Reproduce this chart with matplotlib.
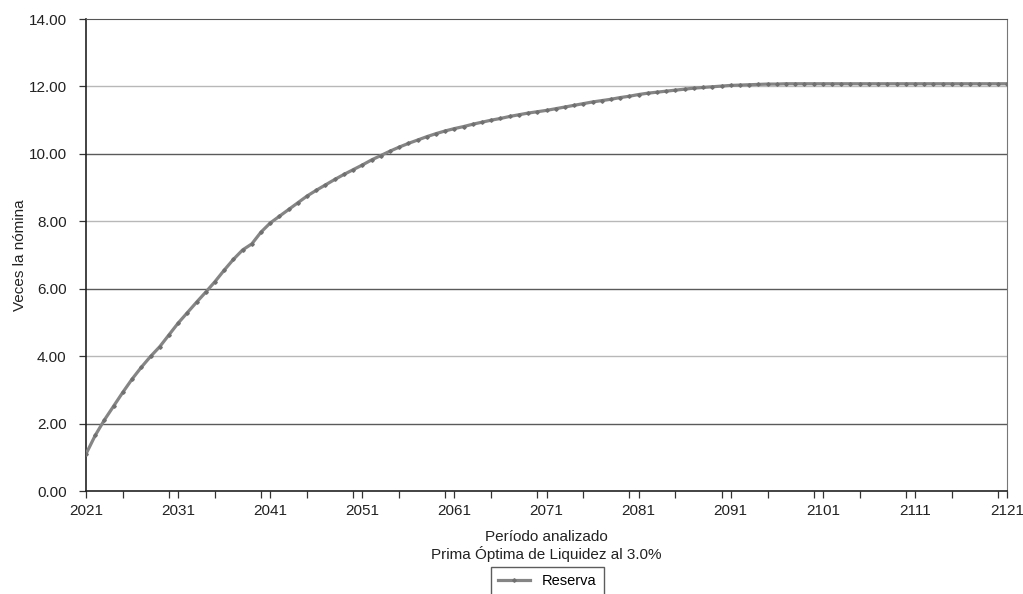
import numpy as np
import matplotlib.pyplot as plt
from matplotlib.ticker import MultipleLocator

# ── data ──
years = list(range(2021, 2122))
reserva = [
    1.10, 1.65, 2.11, 2.52, 2.93, 3.32, 3.67, 3.99, 4.28, 4.63,   # 2021-2030
    4.98, 5.29, 5.60, 5.90, 6.21, 6.55, 6.87, 7.15, 7.33, 7.68,   # 2031-2040
    7.95, 8.15, 8.35, 8.55, 8.75, 8.92, 9.08, 9.24, 9.39, 9.53,   # 2041-2050
    9.67, 9.82, 9.95, 10.08, 10.20, 10.31, 10.41, 10.51, 10.60, 10.68,  # 2051-2060
    10.75, 10.81, 10.88, 10.94, 11.00, 11.05, 11.11, 11.16, 11.21, 11.25,  # 2061-2070
    11.29, 11.34, 11.39, 11.44, 11.49, 11.54, 11.58, 11.62, 11.67, 11.71,  # 2071-2080
    11.76, 11.80, 11.83, 11.86, 11.89, 11.92, 11.95, 11.97, 11.99, 12.01,  # 2081-2090
    12.03, 12.04, 12.05, 12.06, 12.07, 12.07, 12.08, 12.08, 12.08, 12.08,  # 2091-2100
    12.08, 12.08, 12.08, 12.08, 12.08, 12.08, 12.08, 12.08, 12.08, 12.08,  # 2101-2110
    12.08, 12.08, 12.08, 12.08, 12.08, 12.08, 12.08, 12.08, 12.08, 12.08,  # 2111-2120
    12.08,                                                          # 2121
]
y_ticks = [0, 2, 4, 6, 8, 10, 12, 14]
x_ticks = list(range(2021, 2122, 10))

FS = 11

plt.rcParams.update({
    "font.family": ["Liberation Sans", "DejaVu Sans"],
    "font.size": FS,
})

fig = plt.figure(figsize=(10.23, 5.94), dpi=100)
ax = fig.add_axes([0.0841, 0.1734, 0.9003, 0.7946])

# alternating grid shades like the scanned original
for yv in y_ticks[1:-1]:
    col = "#5a5a5a" if (yv // 2) % 2 == 1 else "#b8b8b8"
    ax.axhline(yv, color=col, lw=1.0, zorder=1)

ax.plot(years, reserva, color="#858585", lw=2.3, marker="D", ms=1.8,
        mfc="#707070", mec="#707070", label="Reserva", zorder=3)

ax.set_xlim(2021, 2121)
ax.set_ylim(0, 14)
ax.set_xticks(x_ticks)
ax.xaxis.set_minor_locator(MultipleLocator(5))
ax.set_yticks(y_ticks)
ax.set_yticklabels([f"{v:.2f}" for v in y_ticks])
ax.tick_params(axis="both", which="both", direction="out", length=5,
               width=0.9, color="#333333", labelsize=FS, labelcolor="#222222")
ax.tick_params(axis="y", pad=9)
ax.tick_params(axis="x", pad=4)

for side in ["left", "bottom"]:
    ax.spines[side].set_color("#222222")
    ax.spines[side].set_linewidth(1.2)
ax.spines["top"].set_color("#555555")
ax.spines["right"].set_color("#777777")

ax.set_ylabel("Veces la nómina", fontsize=FS, color="#222222")
ax.yaxis.set_label_coords(-0.064, 0.5)
ax.set_xlabel("Período analizado\nPrima Óptima de Liquidez al 3.0%",
              fontsize=FS, color="#222222", linespacing=1.15)
ax.xaxis.set_label_coords(0.5, -0.117)
ax.xaxis.label.set_va("center")

fig.legend(loc="upper center", bbox_to_anchor=(0.535, 1 - 567 / 594), ncol=1,
           fontsize=FS - 0.5, frameon=True, fancybox=False, edgecolor="#333333",
           handlelength=2.2, borderpad=0.5, borderaxespad=0)

fig.savefig("out.png", dpi=100)
